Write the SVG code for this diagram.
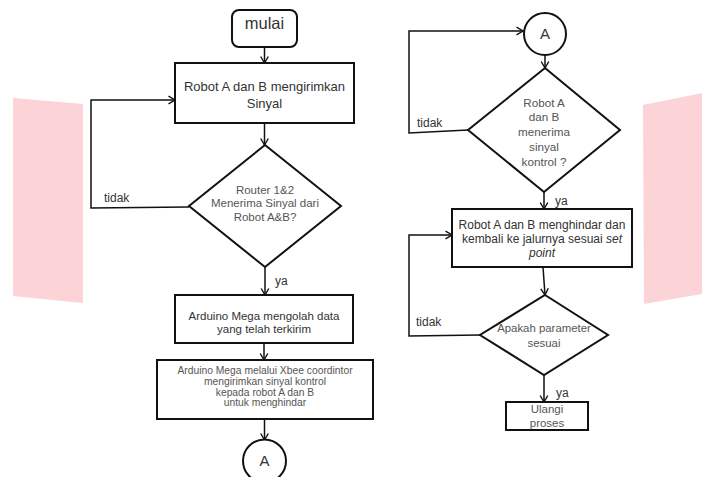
<svg xmlns="http://www.w3.org/2000/svg" width="702" height="477" viewBox="0 0 702 477">
<style>
.bg{fill:#fcd3d6;stroke:none}
.box{fill:#fff;stroke:#111;stroke-width:2}
.dia{fill:#fff;stroke:#111;stroke-width:2}
.con{fill:none;stroke:#111;stroke-width:1.5;marker-end:url(#arr)}
.ln{fill:none;stroke:#111;stroke-width:1.5}
text{font-family:"Liberation Sans",Arial,sans-serif;text-anchor:middle}
.t{fill:#333}
.g{fill:#555}
.lab{fill:#333;font-size:12px;text-anchor:start}
</style>
<defs>
<marker id="arr" viewBox="-8 -5 9 10" refX="0" refY="0" markerWidth="9" markerHeight="10" markerUnits="userSpaceOnUse" orient="auto">
<path d="M-6.5,-3.8 L0,0 L-6.5,3.8" fill="none" stroke="#111" stroke-width="1.4"/>
</marker>
</defs>
<rect width="702" height="477" fill="#fff"/>
<polygon class="bg" points="13,98 83,104 83,303 13,296"/>
<polygon class="bg" points="643,105 702,93 702,294 644,304"/>

<g id="connectors">
<path class="con" d="M264.5,47 L264.5,63"/>
<path class="con" d="M264.5,123 L264.5,145"/>
<path class="con" d="M265,267 L265,295"/>
<path class="con" d="M264,343 L264,360"/>
<path class="con" d="M264.5,419 L264.5,440"/>
<path class="con" d="M189,207 L91,208 L91,100 L175,100"/>
<path class="con" d="M468,130 L409,133 L409,31 L523,31"/>
<path class="con" d="M545,55 L545,68"/>
<path class="con" d="M544,192 L544,209"/>
<path class="con" d="M543,267 L545,295"/>
<path class="con" d="M480,335 L409,336 L409,235 L452,235"/>
<path class="con" d="M544,375 L544,402"/>
<text class="lab" x="104" y="202">tidak</text>
<text class="lab" x="275" y="285">ya</text>
<text class="lab" x="417" y="127">tidak</text>
<text class="lab" x="555" y="205">ya</text>
<text class="lab" x="416" y="326">tidak</text>
<text class="lab" x="556" y="397">ya</text>
</g>

<g id="mulai">
<rect class="box" x="232" y="10" width="65" height="37" rx="7"/>
<text class="t" x="264.5" y="29" font-size="16.5">mulai</text>
</g>

<g id="kirim">
<rect class="box" x="175" y="63" width="179" height="60"/>
<text class="t" x="264.5" y="90.5" font-size="13">Robot A dan B mengirimkan</text>
<text class="t" x="264.5" y="107.5" font-size="13">Sinyal</text>
</g>

<g id="router">
<polygon class="dia" points="265,145 341,206 265,267 189,206"/>
<text class="g" x="265" y="194" font-size="11.5">Router 1&amp;2</text>
<text class="g" x="265" y="207" font-size="11.5">Menerima Sinyal dari</text>
<text class="g" x="265" y="221" font-size="11.5">Robot A&amp;B?</text>
</g>

<g id="olah">
<rect class="box" x="175" y="295" width="178" height="48"/>
<text class="t" x="264" y="319.5" font-size="11.5">Arduino Mega mengolah data</text>
<text class="t" x="264" y="333" font-size="11.5">yang telah terkirim</text>
</g>

<g id="xbee">
<rect class="box" x="157" y="360" width="216" height="59"/>
<text class="g" x="265" y="373.5" font-size="10.3">Arduino Mega melalui Xbee coordintor</text>
<text class="g" x="265" y="384.5" font-size="10.3">mengirimkan sinyal kontrol</text>
<text class="g" x="265" y="395.5" font-size="10.3">kepada robot A dan B</text>
<text class="g" x="265" y="405.5" font-size="10.3">untuk menghindar</text>
</g>

<g id="A1">
<circle class="box" cx="264.5" cy="461" r="21.5"/>
<text class="t" x="264.5" y="466" font-size="15">A</text>
</g>

<g id="A2">
<circle class="box" cx="545" cy="34" r="21"/>
<text class="t" x="545" y="39" font-size="15">A</text>
</g>

<g id="terima">
<polygon class="dia" points="545,68 620,130 544,192 468,130"/>
<text class="g" x="544" y="107" font-size="11.7">Robot A</text>
<text class="g" x="544" y="121" font-size="11.7">dan B</text>
<text class="g" x="544" y="136" font-size="11.7">menerima</text>
<text class="g" x="544" y="151" font-size="11.7">sinyal</text>
<text class="g" x="544" y="166" font-size="11.7">kontrol ?</text>
</g>

<g id="hindar">
<rect class="box" x="452" y="209" width="180" height="58"/>
<text class="t" x="542" y="229" font-size="12">Robot A dan B menghindar dan</text>
<text class="t" x="542" y="243" font-size="12">kembali ke jalurnya sesuai <tspan font-style="italic">set</tspan></text>
<text class="t" x="542" y="257" font-size="12" font-style="italic">point</text>
</g>

<g id="param">
<polygon class="dia" points="545,295 608,335 544,375 480,335"/>
<text class="g" x="544" y="332" font-size="11.4">Apakah parameter</text>
<text class="g" x="544" y="347" font-size="11.4">sesuai</text>
</g>

<g id="ulangi">
<rect class="box" x="506" y="402" width="82" height="28"/>
<text class="g" x="547" y="413" font-size="11.5">Ulangi</text>
<text class="g" x="547" y="427" font-size="11.5">proses</text>
</g>
</svg>
